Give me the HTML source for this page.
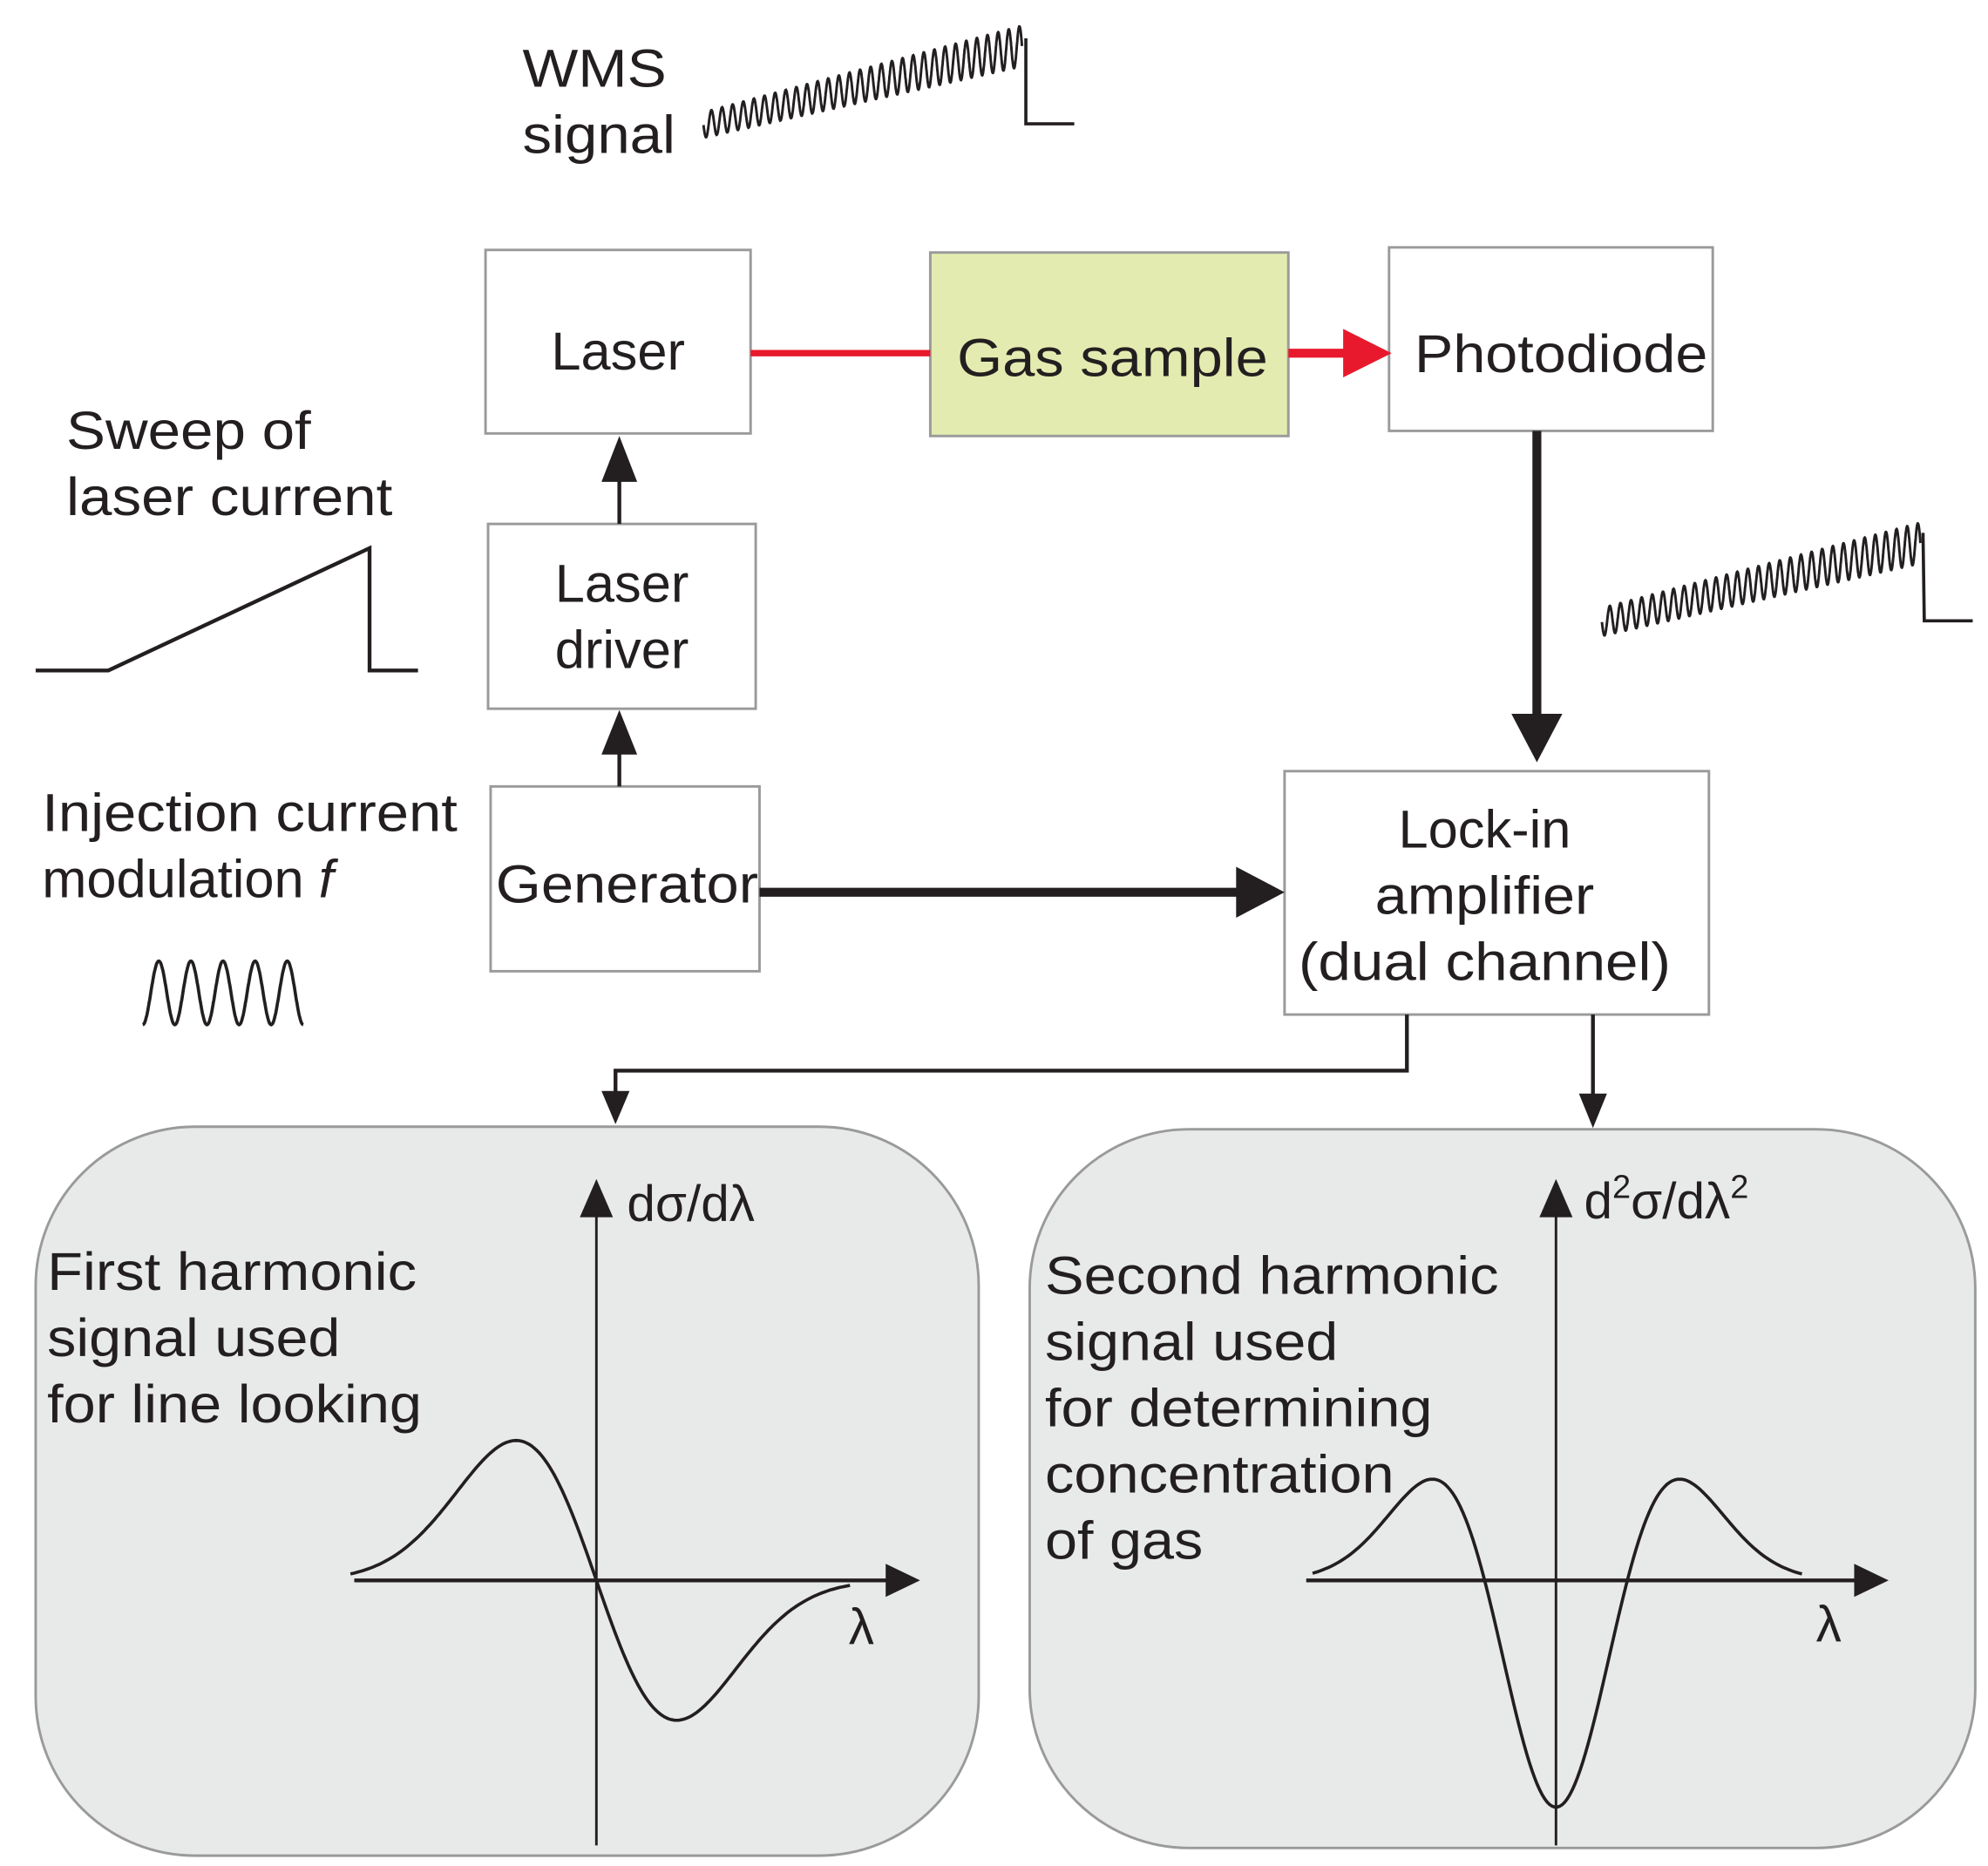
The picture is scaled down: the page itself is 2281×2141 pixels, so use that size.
<!DOCTYPE html>
<html><head><meta charset="utf-8"><style>
html,body{margin:0;padding:0;background:#fff}
svg{display:block}
text{font-family:"Liberation Sans",Arial,sans-serif;fill:#231f20}
</style></head><body>
<svg id="s" width="2281" height="2141" viewBox="0 0 1560 1464" xmlns="http://www.w3.org/2000/svg">
<rect width="1560" height="1464" fill="#fff"/>
<rect x="28" y="884" width="740" height="572" rx="125" fill="#e8eaea" stroke="#9a9a9a" stroke-width="2"/>
<rect x="808" y="886" width="742" height="564" rx="125" fill="#e8eaea" stroke="#9a9a9a" stroke-width="2"/>
<g fill="#fff" stroke="#9a9a9a" stroke-width="2">
<rect x="381" y="196" width="208" height="144"/>
<rect x="730" y="198" width="281" height="144" fill="#e3ebb0"/>
<rect x="1090" y="194" width="254" height="144"/>
<rect x="383" y="411" width="210" height="145"/>
<rect x="385" y="617" width="211" height="145"/>
<rect x="1008" y="605" width="333" height="191"/>
</g>
<line x1="589" y1="277" x2="730" y2="277" stroke="#e8192c" stroke-width="5"/>
<line x1="1011" y1="277" x2="1058" y2="277" stroke="#e8192c" stroke-width="7"/>
<polygon points="1054,258 1092,277 1054,296" fill="#e8192c"/>
<g stroke="#231f20" fill="none">
<line x1="486" y1="411" x2="486" y2="370" stroke-width="3"/>
<line x1="486" y1="617" x2="486" y2="585" stroke-width="3"/>
<line x1="1206" y1="338" x2="1206" y2="565" stroke-width="7"/>
<line x1="596" y1="700" x2="975" y2="700" stroke-width="7"/>
<polyline points="1104,796 1104,840 483,840 483,860" stroke-width="3"/>
<line x1="1250" y1="796" x2="1250" y2="862" stroke-width="3"/>
<line x1="468" y1="1448" x2="468" y2="950" stroke-width="2"/>
<line x1="278" y1="1240" x2="700" y2="1240" stroke-width="3"/>
<line x1="1221" y1="1448" x2="1221" y2="950" stroke-width="2"/>
<line x1="1025" y1="1240" x2="1460" y2="1240" stroke-width="3"/>
</g>
<g fill="#231f20">
<polygon points="472,378 486,342 500,378"/>
<polygon points="472,592 486,557 500,592"/>
<polygon points="1186,560 1206,598 1226,560"/>
<polygon points="970,680 1008,700 970,720"/>
<polygon points="472,856 483,882 494,856"/>
<polygon points="1239,858 1250,885 1261,858"/>
<polygon points="455,955 468,925 481,955"/>
<polygon points="695,1227 722,1240 695,1253"/>
<polygon points="1208,955 1221,925 1234,955"/>
<polygon points="1455,1227 1482,1240 1455,1253"/>
</g>
<polyline points="28,526 85,526 290,430 290,526 328,526" fill="none" stroke="#231f20" stroke-width="3"/>
<path id="wms" fill="none" stroke="#231f20" stroke-width="2"/>
<polyline points="805,30 805,97 843,97" fill="none" stroke="#231f20" stroke-width="2.5"/>
<path id="rw" fill="none" stroke="#231f20" stroke-width="2"/>
<polyline points="1509,418 1510,487 1548,487" fill="none" stroke="#231f20" stroke-width="2.5"/>
<path id="inj" fill="none" stroke="#231f20" stroke-width="2.5"/>
<path id="c1" fill="none" stroke="#231f20" stroke-width="2.5"/>
<path id="c2" fill="none" stroke="#231f20" stroke-width="2.5"/>
<g font-size="42">
<text x="410" y="68" textLength="113" lengthAdjust="spacingAndGlyphs">WMS</text>
<text x="410" y="120" textLength="120" lengthAdjust="spacingAndGlyphs">signal</text>
<text x="485" y="290" text-anchor="middle">Laser</text>
<text x="873" y="295" text-anchor="middle" textLength="244" lengthAdjust="spacingAndGlyphs">Gas sample</text>
<text x="1225" y="292" text-anchor="middle" textLength="230" lengthAdjust="spacingAndGlyphs">Photodiode</text>
<text x="488" y="472" text-anchor="middle">Laser</text>
<text x="488" y="524" text-anchor="middle">driver</text>
<text x="492" y="708" text-anchor="middle" textLength="206" lengthAdjust="spacingAndGlyphs">Generator</text>
<text x="1165" y="665" text-anchor="middle">Lock-in</text>
<text x="1165" y="717" text-anchor="middle" textLength="172" lengthAdjust="spacingAndGlyphs">amplifier</text>
<text x="1165" y="769" text-anchor="middle" textLength="292" lengthAdjust="spacingAndGlyphs">(dual channel)</text>
<text x="52" y="352" textLength="192" lengthAdjust="spacingAndGlyphs">Sweep of</text>
<text x="52" y="404" textLength="256" lengthAdjust="spacingAndGlyphs">laser current</text>
<text x="33" y="652" textLength="326" lengthAdjust="spacingAndGlyphs">Injection current</text>
<text x="33" y="704">modulation <tspan font-style="italic">f</tspan></text>
<text x="37" y="1012" textLength="290" lengthAdjust="spacingAndGlyphs">First harmonic</text>
<text x="37" y="1064" textLength="230" lengthAdjust="spacingAndGlyphs">signal used</text>
<text x="37" y="1116" textLength="294" lengthAdjust="spacingAndGlyphs">for line looking</text>
<text x="820" y="1015" textLength="356" lengthAdjust="spacingAndGlyphs">Second harmonic</text>
<text x="820" y="1067" textLength="230" lengthAdjust="spacingAndGlyphs">signal used</text>
<text x="820" y="1119" textLength="304" lengthAdjust="spacingAndGlyphs">for determining</text>
<text x="820" y="1171" textLength="274" lengthAdjust="spacingAndGlyphs">concentration</text>
<text x="820" y="1223" textLength="124" lengthAdjust="spacingAndGlyphs">of gas</text>
<text x="492" y="958" font-size="40">dσ/dλ</text>
<text x="666" y="1290" font-size="40">λ</text>
<text x="1243" y="956" font-size="40">d<tspan font-size="26" dy="-16">2</tspan><tspan dy="16">σ/dλ</tspan><tspan font-size="26" dy="-16">2</tspan></text>
<text x="1425" y="1288" font-size="40">λ</text>
</g>
<script>
function set(id,pts){document.getElementById(id).setAttribute('d','M'+pts.map(p=>p[0].toFixed(1)+','+p[1].toFixed(1)).join(' L'));}
var p=[],N=1600,i,t;
for(i=0;i<=N;i++){t=i/N;p.push([552+250*t,98-62*t+(10+6*t)*Math.sin(t*2*Math.PI*30)]);}set('wms',p);
p=[];for(i=0;i<=N;i++){t=i/N;var b=488-62*t;p.push([1257+250*t,b+(11+5*t)*Math.sin(t*2*Math.PI*30)]);}set('rw',p);
p=[];for(i=0;i<=400;i++){t=i/400;p.push([112+126*t,779+25*Math.cos(t*2*Math.PI*5)]);}set('inj',p);
p=[];for(var x=275;x<=668;x+=2){var u=(x-468)/63;p.push([x,1240+181*u*Math.exp(-u*u/2)]);}set('c1',p);
p=[];for(var x=1030;x<=1415;x+=2){var u=(x-1221)/56;p.push([x,1240+178*(1-u*u)*Math.exp(-u*u/2)]);}set('c2',p);
</script>
</svg>
</body></html>
